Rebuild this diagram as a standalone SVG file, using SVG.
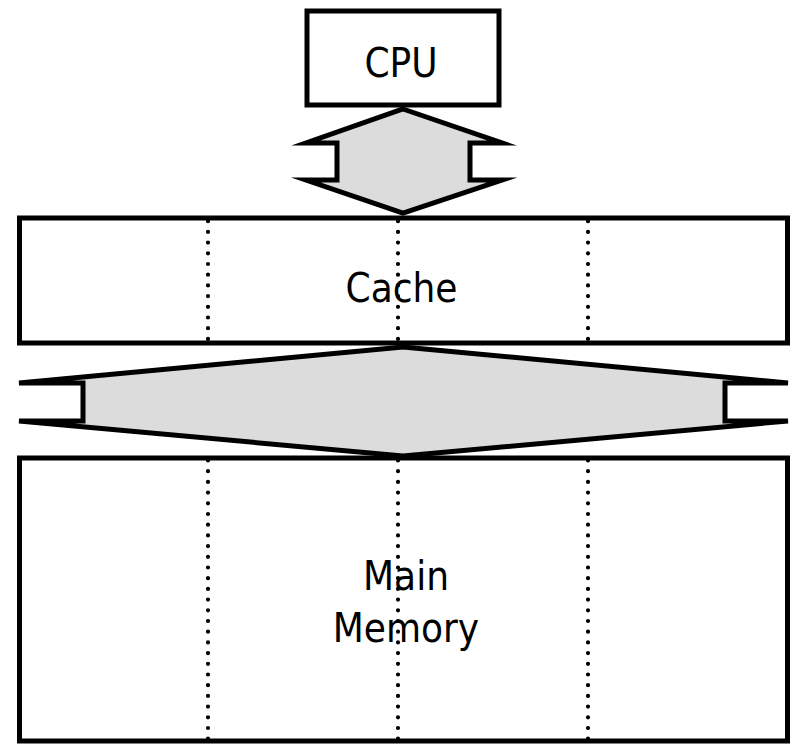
<svg xmlns="http://www.w3.org/2000/svg" width="790" height="745" viewBox="0 0 790 745">
<style>
.box{fill:#ffffff;stroke:#000000;stroke-width:5}
.arrow{fill:#dcdcdc;stroke:#000000;stroke-width:5;stroke-linejoin:miter;stroke-miterlimit:20}
.wide{stroke-miterlimit:4}
.dots{stroke:#000000;stroke-width:4.2;stroke-linecap:round;stroke-dasharray:0 10.7;fill:none}
.lbl{font-family:"DejaVu Sans Condensed","DejaVu Sans",sans-serif;font-stretch:condensed;font-size:40px;fill:#000000;text-anchor:middle}
</style>
<rect width="790" height="745" fill="#ffffff"/>
<g id="cpu">
<rect class="box" x="307" y="11" width="192" height="94"/>
<text class="lbl" x="401" y="77">CPU</text>
</g>
<g id="cache">
<rect class="box" x="19.5" y="218" width="768" height="125"/>
<line class="dots" x1="208" y1="221.2" x2="208" y2="340"/>
<line class="dots" x1="398" y1="221.2" x2="398" y2="340"/>
<line class="dots" x1="588" y1="221.2" x2="588" y2="340"/>
<text class="lbl" x="401.5" y="302">Cache</text>
</g>
<g id="main-memory">
<rect class="box" x="19.5" y="458" width="768" height="283"/>
<line class="dots" x1="208" y1="460.5" x2="208" y2="739"/>
<line class="dots" x1="398" y1="460.5" x2="398" y2="739"/>
<line class="dots" x1="588" y1="460.5" x2="588" y2="739"/>
<text class="lbl" x="406" y="590">Main</text>
<text class="lbl" x="406" y="642">Memory</text>
</g>
<g id="connectors">
<polygon class="arrow" points="403,109 502,143 470,143 470,180 502,180 403,213 306,180 337,180 337,143 306,143"/>
<polygon class="arrow wide" points="403,347 788,383 725,383 725,421 788,421 403,456 19,421 83,421 83,383 19,383"/>
</g>
</svg>
